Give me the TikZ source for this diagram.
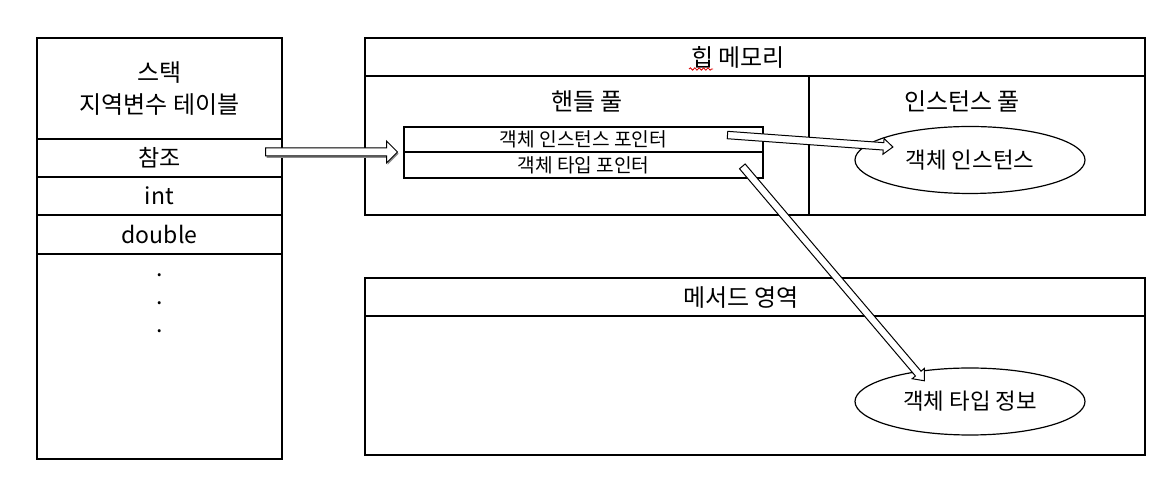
\documentclass[tikz,border=0pt]{standalone}
\usepackage{fontspec}
\setmainfont{Noto Sans CJK KR}
\usetikzlibrary{positioning, calc, shapes.geometric, shapes.arrows, shadows, decorations.pathmorphing}

% hollow block arrow from #2 to #3
\newcommand{\blockarrow}[3][]{%
  \path let \p1=($(#3)-(#2)$), \n1={atan2(\y1,\x1)}, \n2={veclen(\x1,\y1)} in
    node[hollowarrow, #1, rotate=\n1, minimum height=\n2, anchor=tail] at (#2) {};}

\begin{document}
\begin{tikzpicture}[
    x=0.5pt, y=-0.5pt,
    font=\fontsize{11.5}{16}\selectfont,
    cell/.style={draw, line width=0.6pt, outer sep=0pt, inner sep=1pt, anchor=north west},
    row/.style={minimum width=122.5pt, minimum height=19pt},
    head/.style={font=\fontsize{12}{14}\selectfont},
    ptr/.style={cell, font=\fontsize{9.6}{11}\selectfont, minimum width=179.5pt},
    blob/.style={draw, line width=0.6pt, ellipse, inner sep=0pt, minimum width=115pt,
        minimum height=33.5pt, font=\fontsize{11.2}{13}\selectfont},
    hollowarrow/.style={single arrow, draw, fill=white, line width=0.5pt, inner xsep=0pt,
        inner ysep=1.6pt, single arrow head extend=2.1pt, single arrow tip angle=80, minimum width=0pt},
]
\useasboundingbox (0,0) rectangle (1151,485);

% ---- 스택 ----
\node[cell, row, minimum height=50.5pt, align=center, font=\fontsize{12}{16}\selectfont] (stack) at (37,38)
    {스택\\지역변수 테이블};
\node[cell, row, below=0pt of stack] (ref) {참조};
\node[cell, row, below=0pt of ref] (int) {int};
\node[cell, row, minimum height=19.5pt, below=0pt of int] (dbl) {double};
\node[cell, row, minimum height=102.5pt, below=0pt of dbl] (rest) {};
\foreach \i in {0,1,2}
    \node[anchor=base, inner sep=0pt] (dot\i) at ($(rest.north)+(0,23+28*\i)$) {.};

% ---- 힙 메모리 ----
\node[cell, minimum width=390pt, minimum height=19pt] (heap) at (365,38) {};
\node[head] (heaptext) at (738,57) {힙 메모리};
\draw[red!85!black, line width=0.4pt, decorate, decoration={snake, amplitude=0.6pt, segment length=2.2pt}]
    (689,69) -- (713,69);
\node[cell, minimum width=222pt, minimum height=69.5pt] (handlepool) at (heap.south west) {};
\node[cell, minimum width=168pt, minimum height=69.5pt] (instpool) at (handlepool.north east) {};
\node[head] (handletext) at ($(handlepool.north)+(0,25)$) {핸들 풀};
\node[head] (insttext) at ($(instpool.north)+(-15,25)$) {인스턴스 풀};

\node[ptr, minimum height=12.5pt] (instptr) at (404,127) {객체 인스턴스 포인터};
\node[ptr, minimum height=13pt] (typeptr) at (instptr.south west) {객체 타입 포인터};
\node[blob] (instobj) at (970,160) {객체 인스턴스};

% ---- 메서드 영역 ----
\node[cell, minimum width=390pt, minimum height=19pt] (method) at (365,278) {};
\node[head] (methodtext) at (741,298) {메서드 영역};
\node[cell, minimum width=390pt, minimum height=69.5pt] (methodbody) at (method.south west) {};
\node[blob] (typeinfo) at (970,401.5) {객체 타입 정보};

% ---- 화살표 ----
\coordinate (reftail) at ($(ref.east)+(-17,-6)$);
\coordinate (reftip) at ($(instptr.south west)+(-7,0)$);
\coordinate (insttail) at ($(instptr.east)+(-36,-4.5)$);
\coordinate (insttip) at ($(instobj.west)+(38,-13)$);
\coordinate (typetail) at ($(typeptr.east)+(-21,1)$);
\coordinate (typetip) at ($(typeinfo.north)+(-46,13)$);

\blockarrow[inner ysep=1.75pt, single arrow head extend=3.5pt, single arrow tip angle=90,
    drop shadow={shadow xshift=0.6pt, shadow yshift=-0.9pt, fill=black!45, opacity=1}]{reftail}{reftip}
\blockarrow{insttail}{insttip}
\blockarrow{typetail}{typetip}

\end{tikzpicture}
\end{document}
